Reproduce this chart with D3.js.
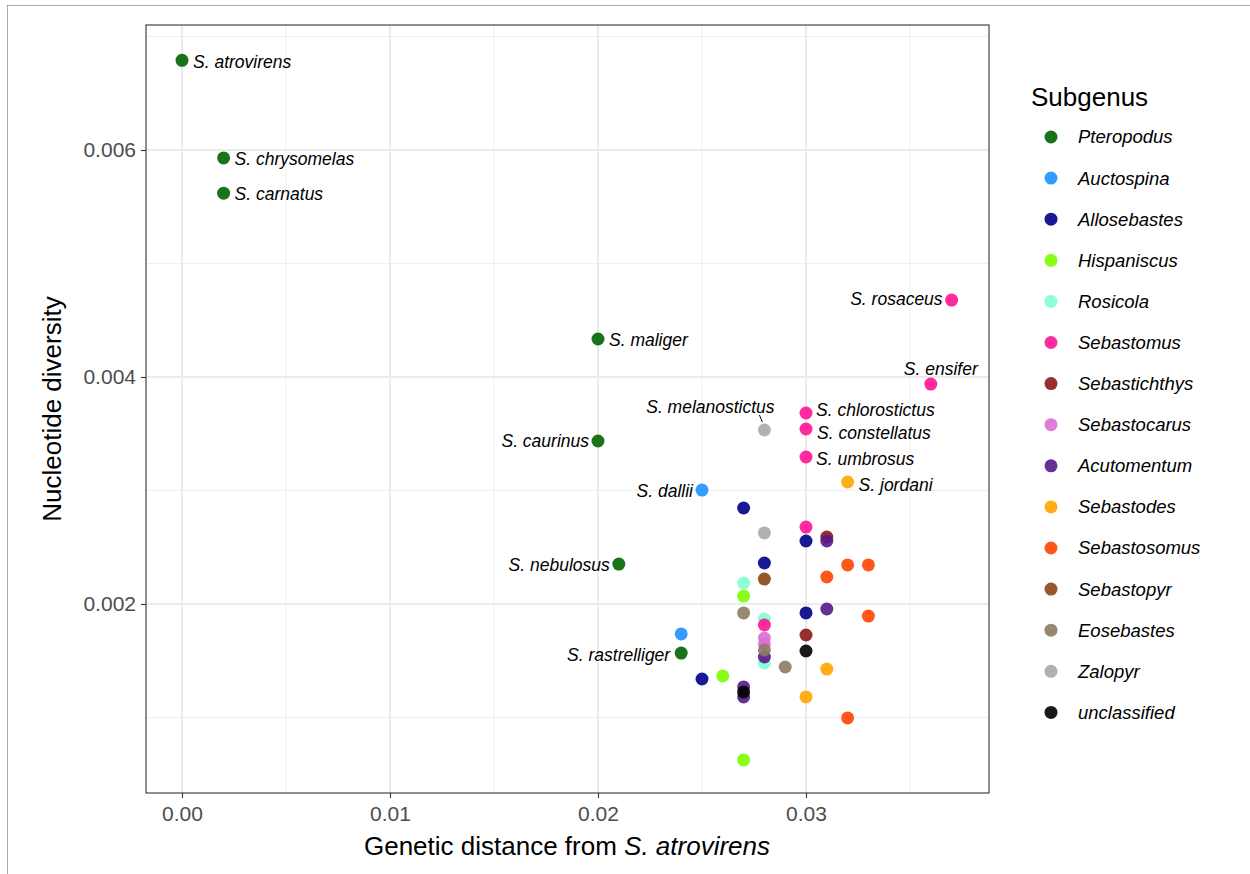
<!DOCTYPE html>
<html>
<head>
<meta charset="utf-8">
<script src="https://cdn.jsdelivr.net/npm/d3@7"></script>
<style>
  body { margin: 0; background: #fff; }
  svg text { font-family: "Liberation Sans", Arial, sans-serif; }
</style>
</head>
<body>
<svg id="chart" width="1250" height="874"></svg>
<script>
// subgenera, in legend order, and their colours
const subgenera = ['Pteropodus', 'Auctospina', 'Allosebastes', 'Hispaniscus', 'Rosicola',
  'Sebastomus', 'Sebastichthys', 'Sebastocarus', 'Acutomentum', 'Sebastodes',
  'Sebastosomus', 'Sebastopyr', 'Eosebastes', 'Zalopyr', 'unclassified'];
const subgenusColors = ['#006400', '#1E90FF', '#00008B', '#7CFC00', '#7FFFD4',
  '#FF1493', '#8B1A1A', '#DA70D6', '#551A8B', '#FFA500',
  '#FF4500', '#8B4513', '#8B7B63', '#A8A8A8', '#000000'];

// each species: genetic distance, nucleotide diversity, subgenus, label
const distance = [
  0.000, 0.002, 0.002, 0.020, 0.020, 0.021, 0.024,
  0.025, 0.024,
  0.027, 0.028, 0.030, 0.030, 0.025,
  0.027, 0.026, 0.027,
  0.027, 0.028, 0.028,
  0.037, 0.036, 0.030, 0.030, 0.030, 0.030, 0.028,
  0.031, 0.030,
  0.028, 0.028,
  0.031, 0.031, 0.028, 0.027, 0.027,
  0.032, 0.031, 0.030,
  0.032, 0.033, 0.031, 0.033, 0.032,
  0.028,
  0.027, 0.028, 0.029,
  0.028, 0.028,
  0.030, 0.027
];
const diversity = [
  0.00679, 0.00593, 0.00562, 0.004335, 0.003436, 0.002352, 0.001568,
  0.003004, 0.001736,
  0.002846, 0.002361, 0.002555, 0.001921, 0.001339,
  0.002070, 0.001366, 0.000626,
  0.002185, 0.001868, 0.001480,
  0.004678, 0.003938, 0.003683, 0.003542, 0.003295, 0.002678, 0.001815,
  0.002590, 0.001727,
  0.001700, 0.001650,
  0.002555, 0.001956, 0.001533, 0.001269, 0.001181,
  0.003075, 0.001427, 0.001181,
  0.002344, 0.002344, 0.002238, 0.001894, 0.000996,
  0.002220,
  0.001921, 0.001595, 0.001445,
  0.003533, 0.002626,
  0.001586, 0.001225
];
const subgenus = [
  'Pteropodus', 'Pteropodus', 'Pteropodus', 'Pteropodus', 'Pteropodus', 'Pteropodus', 'Pteropodus',
  'Auctospina', 'Auctospina',
  'Allosebastes', 'Allosebastes', 'Allosebastes', 'Allosebastes', 'Allosebastes',
  'Hispaniscus', 'Hispaniscus', 'Hispaniscus',
  'Rosicola', 'Rosicola', 'Rosicola',
  'Sebastomus', 'Sebastomus', 'Sebastomus', 'Sebastomus', 'Sebastomus', 'Sebastomus', 'Sebastomus',
  'Sebastichthys', 'Sebastichthys',
  'Sebastocarus', 'Sebastocarus',
  'Acutomentum', 'Acutomentum', 'Acutomentum', 'Acutomentum', 'Acutomentum',
  'Sebastodes', 'Sebastodes', 'Sebastodes',
  'Sebastosomus', 'Sebastosomus', 'Sebastosomus', 'Sebastosomus', 'Sebastosomus',
  'Sebastopyr',
  'Eosebastes', 'Eosebastes', 'Eosebastes',
  'Zalopyr', 'Zalopyr',
  'unclassified', 'unclassified'
];
const species = [
  'S. atrovirens', 'S. chrysomelas', 'S. carnatus', 'S. maliger', 'S. caurinus', 'S. nebulosus', 'S. rastrelliger',
  'S. dallii', '',
  '', '', '', '', '',
  '', '', '',
  '', '', '',
  'S. rosaceus', 'S. ensifer', 'S. chlorostictus', 'S. constellatus', 'S. umbrosus', '', '',
  '', '',
  '', '',
  '', '', '', '', '',
  'S. jordani', '', '',
  '', '', '', '', '',
  '',
  '', '', '',
  'S. melanostictus', '',
  '', ''
];

const xTicks = [0, 0.01, 0.02, 0.03];
const xMinor = [0.005, 0.015, 0.025, 0.035];
const yTicks = [0.002, 0.004, 0.006];
const yMinor = [0.001, 0.003, 0.005, 0.007];

// label placement relative to point (repel-like offsets)
const labelPlace = {
  'S. atrovirens':   {dx: 11, dy: 2, anchor: 'start'},
  'S. chrysomelas':  {dx: 11, dy: 1, anchor: 'start'},
  'S. carnatus':     {dx: 11, dy: 1, anchor: 'start'},
  'S. maliger':      {dx: 11, dy: 1, anchor: 'start'},
  'S. caurinus':     {dx: -9, dy: 0, anchor: 'end'},
  'S. nebulosus':    {dx: -9, dy: 1, anchor: 'end'},
  'S. rastrelliger': {dx: -11, dy: 2, anchor: 'end'},
  'S. dallii':       {dx: -9, dy: 1, anchor: 'end'},
  'S. rosaceus':     {dx: -9, dy: -1, anchor: 'end'},
  'S. ensifer':      {dx: 10, dy: -15, anchor: 'middle'},
  'S. chlorostictus':{dx: 10, dy: -3, anchor: 'start'},
  'S. constellatus': {dx: 11, dy: 4, anchor: 'start'},
  'S. umbrosus':     {dx: 10, dy: 2, anchor: 'start'},
  'S. jordani':      {dx: 11, dy: 3, anchor: 'start'},
  'S. melanostictus':{dx: -54, dy: -23, anchor: 'middle', line: true}
};

const svg = d3.select('#chart');
const margin = {left: 146, right: 989, top: 25, bottom: 793};

// dotted page frame (top and left edges only)
svg.append('line')
  .attr('x1', 7.5).attr('y1', 5.5).attr('x2', 1250).attr('y2', 5.5)
  .attr('stroke', '#555').attr('stroke-width', 1).attr('stroke-dasharray', '1,1');
svg.append('line')
  .attr('x1', 7.5).attr('y1', 5.5).attr('x2', 7.5).attr('y2', 874)
  .attr('stroke', '#555').attr('stroke-width', 1).attr('stroke-dasharray', '1,1');

const xScale = d3.scaleLinear().domain([-0.001731, 0.038798]).range([margin.left, margin.right]);
const yScale = d3.scaleLinear().domain([0.0003348, 0.0071013]).range([margin.bottom, margin.top]);
const color = d3.scaleOrdinal().domain(subgenera).range(subgenusColors);

const grid = svg.append('g');
grid.selectAll('.xminor').data(xMinor).join('line')
  .attr('x1', d => xScale(d)).attr('x2', d => xScale(d))
  .attr('y1', margin.top).attr('y2', margin.bottom)
  .attr('stroke', '#ebebeb').attr('stroke-width', 0.8);
grid.selectAll('.yminor').data(yMinor).join('line')
  .attr('y1', d => yScale(d)).attr('y2', d => yScale(d))
  .attr('x1', margin.left).attr('x2', margin.right)
  .attr('stroke', '#ebebeb').attr('stroke-width', 0.8);
grid.selectAll('.xmajor').data(xTicks).join('line')
  .attr('x1', d => xScale(d)).attr('x2', d => xScale(d))
  .attr('y1', margin.top).attr('y2', margin.bottom)
  .attr('stroke', '#ebebeb').attr('stroke-width', 2);
grid.selectAll('.ymajor').data(yTicks).join('line')
  .attr('y1', d => yScale(d)).attr('y2', d => yScale(d))
  .attr('x1', margin.left).attr('x2', margin.right)
  .attr('stroke', '#ebebeb').attr('stroke-width', 2);

// axes
const xAxis = svg.append('g')
  .attr('transform', `translate(0,${margin.bottom})`)
  .call(d3.axisBottom(xScale).tickValues(xTicks).tickFormat(d3.format('.2f')).tickSize(5).tickSizeOuter(0));
const yAxis = svg.append('g')
  .attr('transform', `translate(${margin.left},0)`)
  .call(d3.axisLeft(yScale).tickValues(yTicks).tickFormat(d3.format('.3f')).tickSize(5).tickSizeOuter(0));
[xAxis, yAxis].forEach(function(ax){
  ax.select('.domain').remove();
  ax.selectAll('.tick line').attr('stroke', '#333').attr('stroke-width', 1.1);
  ax.selectAll('.tick text').attr('fill', '#4d4d4d').style('font-size', '21px');
});
xAxis.selectAll('.tick text').attr('dy', '0.95em');
yAxis.selectAll('.tick text').attr('dx', '-2px');

// points
const data = distance.map((d, i) => ({x: d, y: diversity[i], g: subgenus[i], name: species[i]}));

svg.append('g').selectAll('circle').data(data).join('circle')
  .attr('cx', d => xScale(d.x))
  .attr('cy', d => yScale(d.y))
  .attr('r', 6.5)
  .attr('fill', d => color(d.g))
  .attr('fill-opacity', 0.9);

// labels
const labeled = data.filter(d => d.name !== '');
const lab = svg.append('g');
labeled.forEach(function(d){
  const p = labelPlace[d.name];
  const px = xScale(d.x), py = yScale(d.y);
  if(p.line){
    lab.append('line')
      .attr('x1', px - 5).attr('y1', py - 15)
      .attr('x2', px - 2).attr('y2', py - 8)
      .attr('stroke', '#000').attr('stroke-width', 1);
  }
  lab.append('text')
    .attr('x', px + p.dx).attr('y', py + p.dy)
    .attr('dy', '0.35em')
    .attr('text-anchor', p.anchor)
    .style('font-size', '17.5px').style('font-style', 'italic')
    .attr('fill', '#000')
    .text(d.name);
});

// panel border
svg.append('rect')
  .attr('x', margin.left).attr('y', margin.top)
  .attr('width', margin.right - margin.left).attr('height', margin.bottom - margin.top)
  .attr('fill', 'none').attr('stroke', '#333').attr('stroke-width', 1.1);

// axis titles
const xt = svg.append('text')
  .attr('x', 567).attr('y', 855)
  .attr('text-anchor', 'middle').style('font-size', '26px').attr('fill', '#000');
xt.append('tspan').text('Genetic distance from ');
xt.append('tspan').style('font-style', 'italic').text('S. atrovirens');

svg.append('text')
  .attr('transform', `translate(61,${(margin.top + margin.bottom) / 2}) rotate(-90)`)
  .attr('text-anchor', 'middle').style('font-size', '26px').attr('fill', '#000')
  .text('Nucleotide diversity');

// legend
const legend = svg.append('g').attr('transform', 'translate(1031,0)');
legend.append('text')
  .attr('x', 0).attr('y', 106)
  .style('font-size', '26px').attr('fill', '#000')
  .text('Subgenus');
const items = legend.selectAll('.item').data(subgenera).join('g')
  .attr('transform', (d, i) => `translate(0,${137 + i * 41.1})`);
items.append('circle')
  .attr('cx', 20).attr('cy', 0).attr('r', 6.5)
  .attr('fill', d => color(d)).attr('fill-opacity', 0.9);
items.append('text')
  .attr('x', 47).attr('y', 0).attr('dy', '0.35em')
  .style('font-size', '18.5px').style('font-style', 'italic').attr('fill', '#000')
  .text(d => d);
</script>
</body>
</html>
